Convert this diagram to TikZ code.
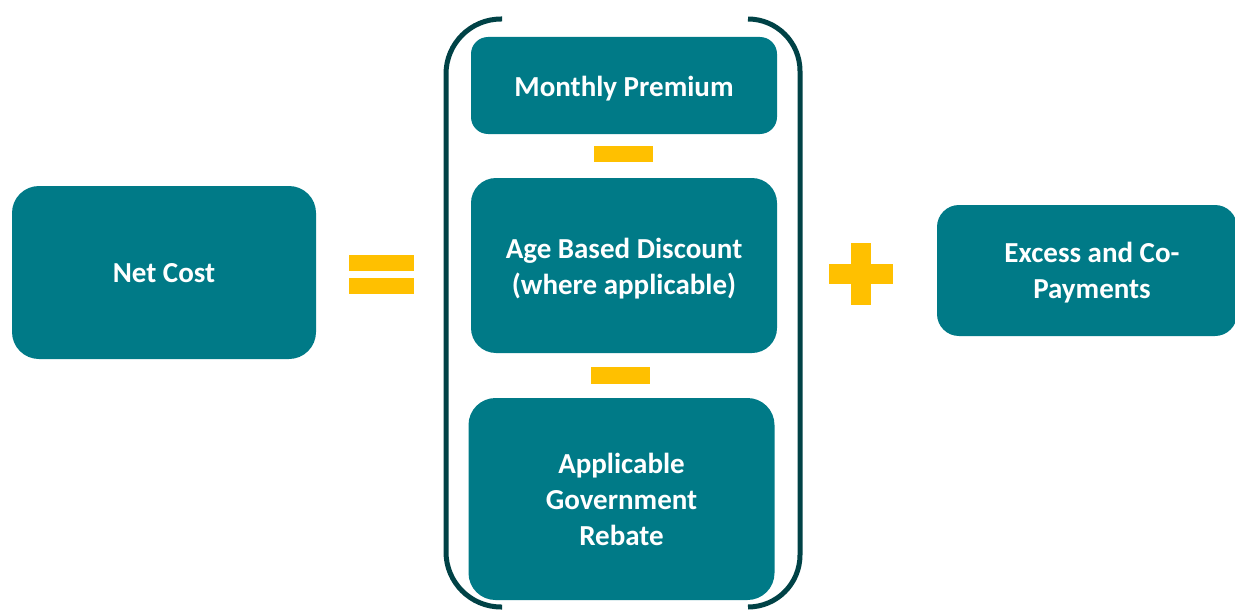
\documentclass[tikz,border=0pt]{standalone}
\usepackage{fontspec}
\setmainfont{Carlito}
\definecolor{tealbox}{RGB}{0,122,135}
\definecolor{darkbr}{RGB}{0,66,70}
\definecolor{opyellow}{RGB}{255,192,0}
\begin{document}
\begin{tikzpicture}[x=1pt,y=-1pt,
  box/.style={fill=tealbox, draw=none, inner sep=0pt},
  boxtext/.style={text=white, align=center,
    font=\fontsize{29}{36}\selectfont\bfseries, inner sep=0pt, yshift=-3pt},
  bracketline/.style={draw=darkbr, line width=5pt},
  opfill/.style={fill=opyellow}]
\useasboundingbox (0,0) rectangle (1235,610);
\clip (0,0) rectangle (1235,610);
% boxes
\node[box, rounded corners=27pt, minimum width=304pt, minimum height=173pt] (net) at (164,272.5) {};
\node[boxtext, yshift=2pt] (nett) at (net.center) {Net Cost};
\node[box, rounded corners=17pt, minimum width=306pt, minimum height=97pt] (prem) at (624,85.5) {};
\node[boxtext] (premt) at (prem.center) {Monthly Premium};
\node[box, rounded corners=25pt, minimum width=306pt, minimum height=175pt] (age) at (624,265.5) {};
\node[boxtext] (aget) at (age.center) {Age Based Discount\\(where applicable)};
\node[box, rounded corners=27pt, minimum width=306pt, minimum height=202pt] (reb) at (621.5,499) {};
\node[boxtext, yshift=3pt] (rebt) at (reb.center) {Applicable\\Government\\Rebate};
\node[box, rounded corners=22pt, minimum width=300pt, minimum height=131pt] (exc) at (1087,270.5) {};
\node[boxtext, yshift=1pt] (exct) at (1092,271) {Excess and Co-\\Payments};
% bracket
\draw[bracketline, rounded corners=55pt] (502,19) -- (446,19) -- (446,607) -- (502,607);
\draw[bracketline, rounded corners=52pt] (748,19) -- (800,19) -- (800,607) -- (748,607);
% equals
\fill[opfill] (349,255) rectangle (414,271);
\fill[opfill] (349,278) rectangle (414,294);
% plus
\fill[opfill] (851,243) rectangle (871,305);
\fill[opfill] (829,264) rectangle (893,284);
% minus signs
\fill[opfill] (594,146) rectangle (653,162);
\fill[opfill] (591,367) rectangle (650,384);
\end{tikzpicture}
\end{document}
